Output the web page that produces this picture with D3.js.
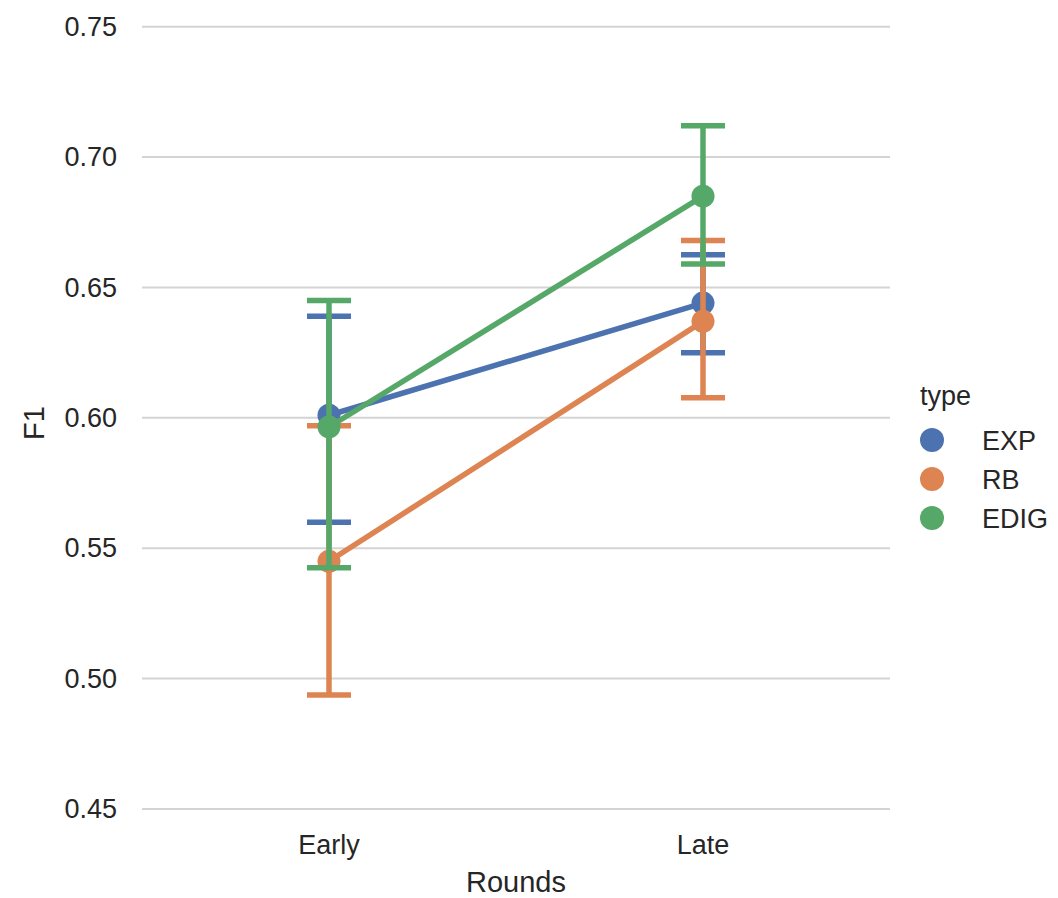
<!DOCTYPE html>
<html><head><meta charset="utf-8">
<script src="https://cdn.jsdelivr.net/npm/d3@7"></script>
<style>body{margin:0;background:#fff;} text{font-family:"Liberation Sans",Arial,sans-serif;fill:#262626;}</style>
</head><body>
<svg id="c" width="1058" height="898"></svg>
<script>
const categories = ["Early", "Late"];
const seriesNames = ["EXP", "RB", "EDIG"];
const colors = ["#4C72B0", "#DD8452", "#55A868"];
const meanEXP = [0.601, 0.644];
const lowEXP = [0.560, 0.625];
const highEXP = [0.639, 0.6625];
const meanRB = [0.545, 0.637];
const lowRB = [0.4937, 0.6077];
const highRB = [0.597, 0.668];
const meanEDIG = [0.5965, 0.685];
const lowEDIG = [0.5425, 0.659];
const highEDIG = [0.645, 0.712];
const yTicks = [0.45, 0.50, 0.55, 0.60, 0.65, 0.70, 0.75];

const series = [
  {name: "EXP", mean: meanEXP, low: lowEXP, high: highEXP},
  {name: "RB", mean: meanRB, low: lowRB, high: highRB},
  {name: "EDIG", mean: meanEDIG, low: lowEDIG, high: highEDIG}
];

const svg = d3.select("#c");
const pLeft = 142, pRight = 890, pTop = 26.7, pBottom = 809;
const x = d3.scaleBand().domain(categories).range([pLeft, pRight]);
const y = d3.scaleLinear().domain([0.45, 0.75]).range([pBottom, pTop]);
const color = d3.scaleOrdinal().domain(seriesNames).range(colors);
const cx = c => x(c) + x.bandwidth() / 2;

// grid
svg.append("g").selectAll("line").data(yTicks).join("line")
  .attr("x1", pLeft).attr("x2", pRight)
  .attr("y1", d => y(d)).attr("y2", d => y(d))
  .attr("stroke", "#d4d4d4").attr("stroke-width", 2);

// y axis labels
const yAxis = d3.axisLeft(y).tickValues(yTicks).tickFormat(d3.format(".2f")).tickSize(0).tickPadding(25);
const gy = svg.append("g").attr("transform", `translate(${pLeft},0)`).call(yAxis);
gy.select(".domain").remove();
gy.selectAll("text").style("font-size", "27px").attr("fill", "#262626")
  .style("font-family", '"Liberation Sans",Arial,sans-serif');

// x axis labels
const xAxis = d3.axisBottom(x).tickSize(0).tickPadding(26);
const gx = svg.append("g").attr("transform", `translate(0,${pBottom})`).call(xAxis);
gx.select(".domain").remove();
gx.selectAll("text").style("font-size", "27px").attr("fill", "#262626")
  .style("font-family", '"Liberation Sans",Arial,sans-serif');

// axis titles
svg.append("text").attr("x", (pLeft + pRight) / 2).attr("y", 892)
  .attr("text-anchor", "middle").style("font-size", "29px").text("Rounds");
svg.append("text").attr("transform", "translate(44,423) rotate(-90)")
  .attr("text-anchor", "middle").style("font-size", "29px").text("F1");

// series
const capW = 22;
const lw = 5.5;
series.forEach(s => {
  const g = svg.append("g");
  const col = color(s.name);
  const pts = categories.map((c, i) => ({c, m: s.mean[i], lo: s.low[i], hi: s.high[i]}));
  g.append("path").datum(pts)
    .attr("d", d3.line().x(d => cx(d.c)).y(d => y(d.m)))
    .attr("fill", "none").attr("stroke", col).attr("stroke-width", lw);
  g.selectAll("circle").data(pts).join("circle")
    .attr("cx", d => cx(d.c)).attr("cy", d => y(d.m)).attr("r", 11.5).attr("fill", col);
  const eb = g.selectAll("g.eb").data(pts).join("g").attr("class", "eb");
  eb.append("line").attr("x1", d => cx(d.c)).attr("x2", d => cx(d.c))
    .attr("y1", d => y(d.lo)).attr("y2", d => y(d.hi)).attr("stroke", col).attr("stroke-width", lw);
  eb.append("line").attr("x1", d => cx(d.c) - capW).attr("x2", d => cx(d.c) + capW)
    .attr("y1", d => y(d.lo)).attr("y2", d => y(d.lo)).attr("stroke", col).attr("stroke-width", lw);
  eb.append("line").attr("x1", d => cx(d.c) - capW).attr("x2", d => cx(d.c) + capW)
    .attr("y1", d => y(d.hi)).attr("y2", d => y(d.hi)).attr("stroke", col).attr("stroke-width", lw);
});

// legend
const lg = svg.append("g");
lg.append("text").attr("x", 920).attr("y", 405).style("font-size", "27px").text("type");
const items = lg.selectAll("g.it").data(seriesNames).join("g").attr("class", "it")
  .attr("transform", (d, i) => `translate(0,${440 + i * 39})`);
items.append("circle").attr("cx", 932).attr("cy", 0).attr("r", 12).attr("fill", d => color(d));
items.append("text").attr("x", 982).attr("y", 0).attr("dy", "0.36em").style("font-size", "27px").text(d => d);
</script>
</body></html>
